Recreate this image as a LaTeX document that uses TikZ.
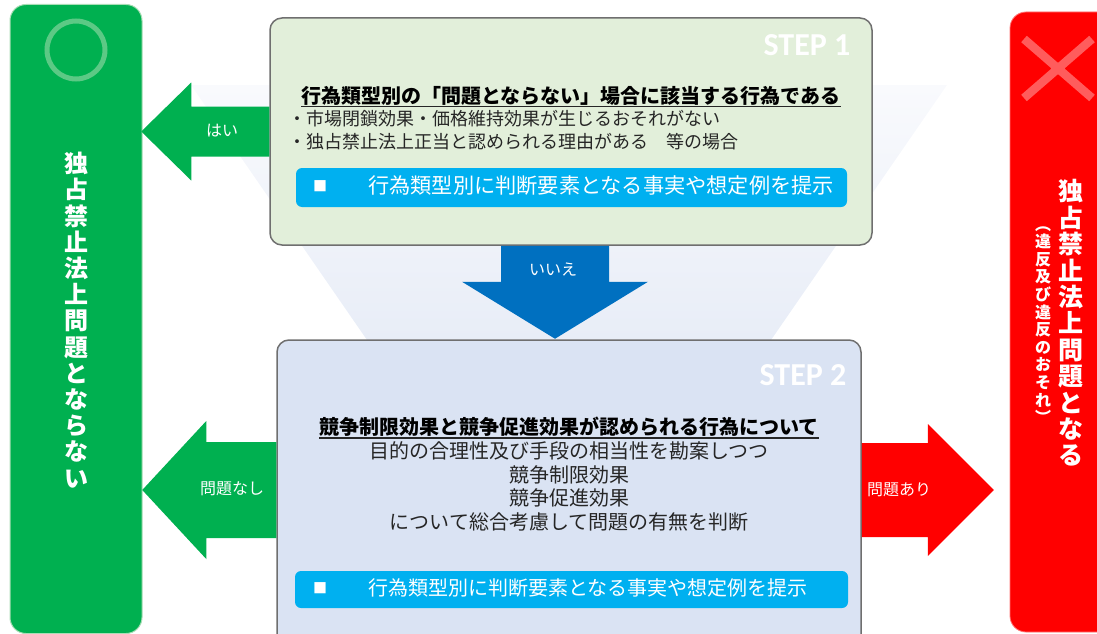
\documentclass[tikz,border=0pt]{standalone}
\usepackage{fontspec}
\setmainfont{Noto Sans CJK JP}
\newfontfamily\stepfont{Carlito}
\usetikzlibrary{calc}

\definecolor{okgreen}{HTML}{00B050}
\definecolor{okline}{HTML}{A9DDB5}
\definecolor{okmark}{HTML}{5CC985}
\definecolor{ngred}{HTML}{FF0000}
\definecolor{ngmark}{HTML}{FF5C5C}
\definecolor{stepone}{HTML}{E2EFDA}
\definecolor{steptwo}{HTML}{DAE3F3}
\definecolor{hintblue}{HTML}{00B0F0}
\definecolor{nodown}{HTML}{0070C0}
\definecolor{frame}{HTML}{6F6F6F}
\definecolor{funtop}{HTML}{F9FAFD}
\definecolor{funbot}{HTML}{E8EDF7}
\definecolor{ink}{HTML}{262626}

\begin{document}
\begin{tikzpicture}[x=1pt,y=-1pt,
  stepbox/.style={draw=frame, line width=1.5pt, rounded corners=12pt, inner sep=0},
  hintbar/.style={fill=hintblue, rounded corners=6pt, inner sep=0},
  steplabel/.style={font=\stepfont\bfseries\fontsize{32}{34}\selectfont, text=white, inner sep=0},
  headline/.style={font=\bfseries\fontsize{20}{24}\selectfont, text=black, inner sep=0},
  body/.style={font=\fontsize{18}{22}\selectfont, text=ink, inner sep=0},
  bodytwo/.style={font=\fontsize{20}{24}\selectfont, text=ink, inner sep=0},
  hinttext/.style={text=white, inner sep=0, anchor=west},
  armlabel/.style={font=\fontsize{16}{18}\selectfont, text=white, inner sep=0},
  bigtext/.style={text=white, align=center, inner sep=0}]
  \useasboundingbox (0,0) rectangle (1097,634);
  \clip (0,0) rectangle (1097,634);

  % funnel behind the steps
  \shade[top color=funtop, bottom color=funbot] (191,85) -- (947,85) -- (771,340) -- (367,340) -- cycle;

  % result bars
  \node[fill=okgreen, draw=okline, line width=1pt, rounded corners=16pt,
        minimum width=132pt, minimum height=629pt, inner sep=0] (okbar) at (76,319) {};
  \node[fill=ngred, draw=ngred!55, line width=0.8pt, rounded corners=16pt,
        minimum width=110pt, minimum height=620pt, inner sep=0] (ngbar) at (1065,322) {};
  \node[draw=okmark, line width=5pt, circle, minimum size=58pt, inner sep=0] (okcircle) at (76,50) {};
  \draw[ngmark, line width=8.5pt] (1024,39) -- (1092,98) (1024,98) -- (1092,39);

  \node[bigtext, font=\bfseries\fontsize{24}{26.2}\selectfont] (oktext) at (76,320)
    {独\\占\\禁\\止\\法\\上\\問\\題\\と\\な\\ら\\な\\い};
  \node[bigtext, font=\bfseries\fontsize{25}{26.4}\selectfont] (ngtext) at (1071,323)
    {独\\占\\禁\\止\\法\\上\\問\\題\\と\\な\\る};
  \node[bigtext, font=\bfseries\fontsize{16}{17.6}\selectfont] (ngsub) at (1043,325)
    {︵\\違\\反\\及\\び\\違\\反\\の\\お\\そ\\れ\\︶};

  % step 1
  \node[stepbox, fill=stepone, minimum width=602pt, minimum height=227pt] (step1) at (571,131.5) {};
  \node[steplabel] (s1tag) at (807,45) {STEP 1};
  \node[headline] (s1head) at (571,96) {行為類型別の「問題とならない」場合に該当する行為である};
  \draw[ink, line width=1.3pt] ($(s1head.south west)+(0,1)$) -- ($(s1head.south east)+(0,1)$);
  \node[body, anchor=west] (s1a) at (288,119) {・市場閉鎖効果・価格維持効果が生じるおそれがない};
  \node[body, anchor=west] (s1b) at (288,142) {・独占禁止法上正当と認められる理由がある　等の場合};
  \node[hintbar, minimum width=551pt, minimum height=39pt] (hint1) at (571.5,187.5) {};
  \node[hinttext, font=\fontsize{14}{16}\selectfont, anchor=center] (hint1sq) at (320,186) {■};
  \node[hinttext, font=\fontsize{21.2}{24}\selectfont] (hint1txt) at (368,186) {行為類型別に判断要素となる事実や想定例を提示};

  % step 2
  \node[stepbox, fill=steptwo, minimum width=584pt, minimum height=320pt] (step2) at (569,500) {};
  \node[steplabel] (s2tag) at (803,375) {STEP 2};
  \node[headline] (s2head) at (569,427) {競争制限効果と競争促進効果が認められる行為について};
  \draw[ink, line width=1.3pt] ($(s2head.south west)+(0,1)$) -- ($(s2head.south east)+(0,1)$);
  \node[bodytwo] (s2a) at (569,451) {目的の合理性及び手段の相当性を勘案しつつ};
  \node[bodytwo] (s2b) at (569,475) {競争制限効果};
  \node[bodytwo] (s2c) at (569,498) {競争促進効果};
  \node[bodytwo] (s2d) at (569,522) {について総合考慮して問題の有無を判断};
  \node[hintbar, minimum width=553pt, minimum height=37pt] (hint2) at (571.5,589.5) {};
  \node[hinttext, font=\fontsize{14}{16}\selectfont, anchor=center] (hint2sq) at (320,588) {■};
  \node[hinttext, font=\fontsize{20}{24}\selectfont] (hint2txt) at (368,588) {行為類型別に判断要素となる事実や想定例を提示};

  % block arrows
  \fill[okgreen] (step1.west) ++(0,-25) -- ++(-78,0) -- ++(0,-24) -- ++(-50,49)
    -- ++(50,49) -- ++(0,-24) -- ++(78,0) -- cycle;
  \node[armlabel] (yeslbl) at (222,131) {はい};

  \coordinate (nostart) at ($(step1.south)+(-16,0)$);
  \fill[nodown] (nostart) ++(-54,0) -- ++(0,36) -- ++(-39,0) -- ++(93,57)
    -- ++(93,-57) -- ++(-39,0) -- ++(0,-36) -- cycle;
  \node[armlabel] (nolbl) at (553,270) {いいえ};

  \coordinate (finestart) at ($(step2.west)+(0,-10)$);
  \fill[okgreen] (finestart) ++(0,-48) -- ++(-70,0) -- ++(0,-21) -- ++(-64,69)
    -- ++(64,69) -- ++(0,-21) -- ++(70,0) -- cycle;
  \node[armlabel] (finelbl) at (232,489) {問題なし};

  \coordinate (badstart) at ($(step2.east)+(0,-10)$);
  \fill[ngred] (badstart) ++(0,-47) -- ++(66,0) -- ++(0,-19) -- ++(66,66)
    -- ++(-66,66) -- ++(0,-19) -- ++(-66,0) -- cycle;
  \node[armlabel] (badlbl) at (899,490) {問題あり};
\end{tikzpicture}
\end{document}
